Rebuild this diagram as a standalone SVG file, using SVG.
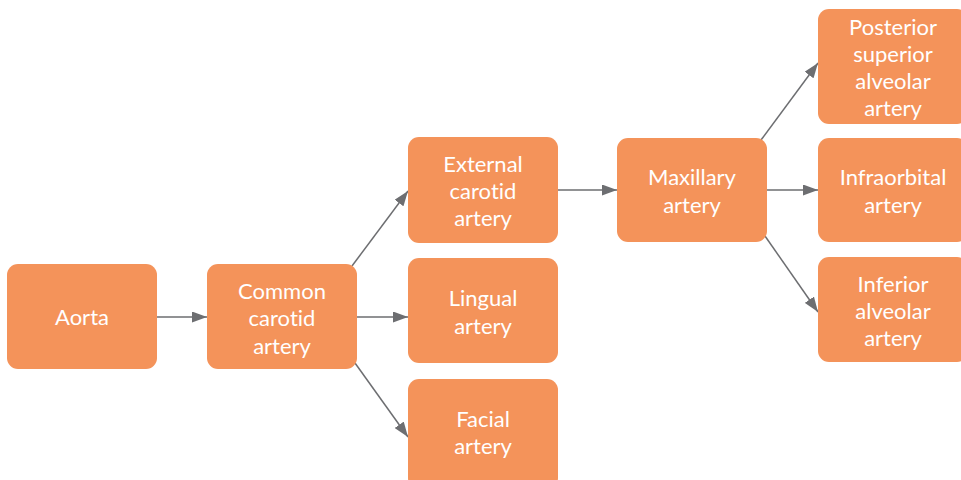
<svg xmlns="http://www.w3.org/2000/svg" width="961" height="480" viewBox="0 0 961 480">
  <style>
    .box { fill: #F4935A; }
    .lbl { fill: #ffffff; font-family: Lato, "Open Sans", sans-serif; font-size: 22px; text-anchor: middle; font-variant-ligatures: none; }
    .edge { stroke: #6D6E71; stroke-width: 1.5; fill: none; marker-end: url(#arrow); }
  </style>
  <defs>
    <marker id="arrow" viewBox="0 0 15 11" refX="15" refY="5.5" markerWidth="15" markerHeight="11" markerUnits="userSpaceOnUse" orient="auto">
      <path d="M0,0 L15,5.5 L0,11 Z" fill="#6D6E71"/>
    </marker>
  </defs>
  <rect width="961" height="480" fill="#ffffff"/>

  <g id="connectors">
    <line class="edge" x1="157" y1="317" x2="207" y2="317"/>
    <line class="edge" x1="352" y1="266" x2="408" y2="191"/>
    <line class="edge" x1="357" y1="317" x2="408" y2="317"/>
    <line class="edge" x1="355" y1="363" x2="408" y2="437"/>
    <line class="edge" x1="558" y1="190" x2="617" y2="190"/>
    <line class="edge" x1="761" y1="140" x2="818" y2="63"/>
    <line class="edge" x1="767" y1="190" x2="818" y2="190"/>
    <line class="edge" x1="765" y1="236" x2="818" y2="312"/>
  </g>

  <g id="aorta">
    <rect class="box" x="7" y="264" width="150" height="105" rx="11"/>
    <text class="lbl" x="82" y="325">Aorta</text>
  </g>
  <g id="common-carotid">
    <rect class="box" x="207" y="264" width="150" height="105" rx="11"/>
    <text class="lbl" x="282" y="299">Common</text>
    <text class="lbl" x="282" y="326">carotid</text>
    <text class="lbl" x="282" y="353.5">artery</text>
  </g>
  <g id="external-carotid">
    <rect class="box" x="408" y="137" width="150" height="106" rx="11"/>
    <text class="lbl" x="483" y="172">External</text>
    <text class="lbl" x="483" y="199">carotid</text>
    <text class="lbl" x="483" y="226">artery</text>
  </g>
  <g id="lingual">
    <rect class="box" x="408" y="258" width="150" height="105" rx="11"/>
    <text class="lbl" x="483" y="306">Lingual</text>
    <text class="lbl" x="483" y="333.5">artery</text>
  </g>
  <g id="facial">
    <rect class="box" x="408" y="379" width="150" height="110" rx="11"/>
    <text class="lbl" x="483" y="427">Facial</text>
    <text class="lbl" x="483" y="454">artery</text>
  </g>
  <g id="maxillary">
    <rect class="box" x="617" y="138" width="150" height="104" rx="11"/>
    <text class="lbl" x="692" y="185">Maxillary</text>
    <text class="lbl" x="692" y="212.5">artery</text>
  </g>
  <g id="posterior-superior-alveolar">
    <rect class="box" x="818" y="9" width="150" height="115" rx="11"/>
    <text class="lbl" x="893" y="35">Posterior</text>
    <text class="lbl" x="893" y="62">superior</text>
    <text class="lbl" x="893" y="89">alveolar</text>
    <text class="lbl" x="893" y="116">artery</text>
  </g>
  <g id="infraorbital">
    <rect class="box" x="818" y="138" width="150" height="104" rx="11"/>
    <text class="lbl" x="893" y="185">Infraorbital</text>
    <text class="lbl" x="893" y="212.5">artery</text>
  </g>
  <g id="inferior-alveolar">
    <rect class="box" x="818" y="257" width="150" height="105" rx="11"/>
    <text class="lbl" x="893" y="292">Inferior</text>
    <text class="lbl" x="893" y="319">alveolar</text>
    <text class="lbl" x="893" y="346">artery</text>
  </g>
</svg>
